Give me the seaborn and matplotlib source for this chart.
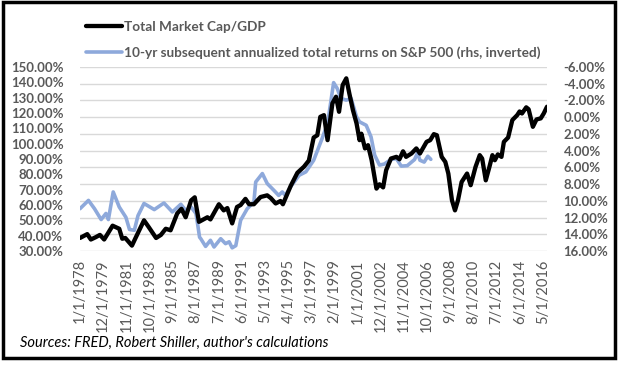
import numpy as np
import pandas as pd
import matplotlib
matplotlib.use("Agg")
import matplotlib.pyplot as plt
from matplotlib.patches import Rectangle
from matplotlib.ticker import FuncFormatter
import seaborn as sns

# Total Market Cap / GDP (lhs, %)
cap_years = [1978.0, 1978.6, 1978.9, 1979.3, 1979.65, 1980.0, 1980.7, 1981.25, 1981.5, 1981.75,
             1982.3, 1982.6, 1983.3, 1983.7, 1984.3, 1984.7, 1985.1, 1985.5, 1986.05, 1986.4,
             1986.75, 1987.2, 1987.5, 1987.85, 1988.55, 1988.8, 1989.5, 1989.9, 1990.2, 1990.6,
             1991.0, 1991.3, 1991.7, 1992.0, 1992.4, 1992.95, 1993.5, 1993.8, 1994.2, 1994.6,
             1994.8, 1995.45, 1996.0, 1996.55, 1996.95, 1997.35, 1997.65, 1997.9, 1998.2, 1998.5,
             1998.9, 1999.2, 1999.45, 1999.75, 2000.05, 2000.3, 2000.6, 2000.9, 2001.15, 2001.3,
             2001.6, 2001.85, 2002.15, 2002.55, 2002.8, 2003.1, 2003.35, 2003.75, 2004.2, 2004.45,
             2004.75, 2005.0, 2005.45, 2005.85, 2006.15, 2006.7, 2007.0, 2007.3, 2007.55, 2007.95,
             2008.25, 2008.5, 2008.8, 2009.05, 2009.3, 2009.6, 2010.05, 2010.35, 2010.75, 2011.1,
             2011.3, 2011.6, 2011.9, 2012.15, 2012.35, 2012.6, 2012.9, 2013.1, 2013.45, 2013.8,
             2014.2, 2014.4, 2014.6, 2014.95, 2015.15, 2015.5, 2015.8, 2016.15, 2016.4, 2016.67]
cap_gdp = [38.5, 41, 37.5, 39, 40.5, 37.5, 46.5, 44.5, 38, 38.5,
           33.5, 38.5, 50, 45.5, 38.5, 40.5, 44.5, 43.5, 54.5, 57.5,
           52, 63, 65, 49, 52, 50.6, 60.5, 56.5, 58, 48,
           58.7, 60, 64, 60.5, 60.5, 65.2, 66.3, 64.5, 61, 62.6,
           60.5, 72.5, 81, 85, 89, 104, 105.5, 117.5, 118.6, 102.3,
           126.3, 130.6, 120.8, 138.2, 142.6, 132.8, 121.9, 113.2, 102.3, 106.5,
           96.9, 99, 89.2, 70.7, 73.5, 71.5, 82.7, 90.3, 91.4, 89.8,
           95, 91.4, 93.6, 96.9, 93.6, 101.2, 102.3, 106.2, 105.5, 91.4,
           88.1, 80.5, 63.1, 56.5, 63.1, 75, 80.5, 72.9, 84.8, 92.5,
           90.3, 76.1, 84.8, 92.5, 89.2, 93, 91.4, 101.2, 104, 115.4,
           118.6, 121, 119.7, 123.7, 122.4, 111, 115.8, 116.5, 119.7, 124.1]

# 10-yr subsequent annualized S&P 500 total return (rhs, inverted, %)
ret_years = [1978.0, 1978.7, 1979.2, 1979.75, 1980.15, 1980.35, 1980.75, 1981.25, 1981.8, 1982.1,
             1982.5, 1982.8, 1983.3, 1984.15, 1984.95, 1985.65, 1986.35, 1986.75, 1987.2, 1987.6,
             1987.75, 1987.9, 1988.0, 1988.4, 1988.8, 1989.1, 1989.65, 1990.05, 1990.35, 1990.6,
             1990.9, 1991.3, 1991.85, 1992.4, 1992.55, 1993.1, 1993.5, 1994.05, 1994.45, 1994.75,
             1995.0, 1995.45, 1996.15, 1996.7, 1997.35, 1998.05, 1998.5, 1998.75, 1999.0, 1999.3,
             1999.6, 2000.05, 2000.45, 2000.9, 2001.15, 2001.7, 2002.1, 2002.4, 2002.8, 2003.2,
             2003.75, 2004.2, 2004.6, 2005.1, 2005.45, 2005.7, 2005.95, 2006.15, 2006.5, 2006.8,
             2007.05]
sp_ret = [10.94, 9.95, 10.94, 12.24, 11.51, 12.24, 8.94, 10.74, 11.97, 13.43,
          13.52, 11.78, 10.32, 11.05, 10.26, 11.33, 10.41, 11.14, 10.74, 11.51,
          12.88, 14.35, 14.53, 15.45, 14.72, 15.52, 14.53, 15.12, 14.9, 15.62,
          15.36, 12.33, 10.94, 10.13, 7.75, 6.74, 7.93, 8.74, 9.35, 8.94,
          9.35, 8.3, 6.94, 6.54, 5.15, 2.54, 0.75, -1.65, -4.13, -3.43,
          -2.24, -2.04, -2.24, -0.04, 0.56, 0.97, 2.36, 4.54, 5.73, 5.6,
          5.06, 4.95, 5.85, 5.8, 5.37, 5.07, 4.27, 5.15, 5.37, 4.67,
          5.04]

tick_labels = ["1/1/1978", "12/1/1979", "11/1/1981", "10/1/1983", "9/1/1985", "8/1/1987",
               "7/1/1989", "6/1/1991", "5/1/1993", "4/1/1995", "3/1/1997", "2/1/1999",
               "1/1/2001", "12/1/2002", "11/1/2004", "10/1/2006", "9/1/2008", "8/1/2010",
               "7/1/2012", "6/1/2014", "5/1/2016"]

cap_df = pd.DataFrame({"year": cap_years, "val": cap_gdp})
ret_df = pd.DataFrame({"year": ret_years, "val": sp_ret})

sns.set_style("white")
plt.rcParams["font.family"] = ["Lato", "DejaVu Sans"]
grey = "#595959"
blue = "#8EA9DB"

fig = plt.figure(figsize=(6.2, 3.65), dpi=100)
ax = fig.add_axes([80 / 620, 1 - 251 / 365, 467 / 620, 184 / 365])
ax2 = ax.twinx()

sns.lineplot(data=ret_df, x="year", y="val", ax=ax2, color=blue, lw=2.6,
             label="10-yr subsequent annualized total returns on S&P 500 (rhs, inverted)", legend=False)
sns.lineplot(data=cap_df, x="year", y="val", ax=ax, color="black", lw=3.1,
             label="Total Market Cap/GDP", legend=False)

# black line above blue, grid from the rhs axis
ax.set_zorder(ax2.get_zorder() + 1)
ax.patch.set_visible(False)

ax.set_ylim(30, 150)
ax.set_yticks(np.arange(30, 151, 10))
ax.yaxis.set_major_formatter(FuncFormatter(lambda v, p: f"{v:.2f}%"))
ax2.set_ylim(16, -6)
ax2.set_yticks(np.arange(-6, 17, 2))
ax2.yaxis.set_major_formatter(FuncFormatter(lambda v, p: f"{v:.2f}%"))
ax2.grid(axis="y", color="#D9D9D9", lw=1)
ax2.grid(axis="x", visible=False)
ax.grid(False)

ax.set_xlim(1978.0, 2016.67)
ax.set_xticks([1978 + 23 * k / 12 for k in range(len(tick_labels))])
ax.set_xticklabels(tick_labels, rotation=90)
ax.set_xlabel("")
ax.set_ylabel("")
ax2.set_ylabel("")

for a in (ax, ax2):
    for s in a.spines.values():
        s.set_visible(False)
    a.tick_params(length=0, colors=grey)
for t in ax.get_yticklabels() + ax2.get_yticklabels():
    t.set_fontweight("bold")
    t.set_fontsize(9.5)
for t in ax.get_xticklabels():
    t.set_fontsize(10.5)
ax.tick_params(axis="y", pad=12)
ax2.tick_params(axis="y", pad=12)
ax.tick_params(axis="x", pad=6)

h1, l1 = ax.get_legend_handles_labels()
h2, l2 = ax2.get_legend_handles_labels()
leg = fig.legend(h1 + h2, l1 + l2, loc="upper left", bbox_to_anchor=(74 / 620, 1 - 9 / 365),
                 frameon=False, handlelength=2.6, labelspacing=0.95, handletextpad=0.2,
                 prop={"weight": "bold", "size": 9.8})
for t in leg.get_texts():
    t.set_color(grey)

fig.text(20 / 620, 1 - 343 / 365, "Sources: FRED, Robert Shiller, author's calculations",
         style="italic", fontsize=10.5, color="black", va="center")

fig.add_artist(Rectangle((2.5 / 620, 7 / 365), 612.5 / 620, 356 / 365, transform=fig.transFigure,
                         fill=False, lw=2.5, edgecolor="black"))

fig.savefig("out.png", dpi=100)
